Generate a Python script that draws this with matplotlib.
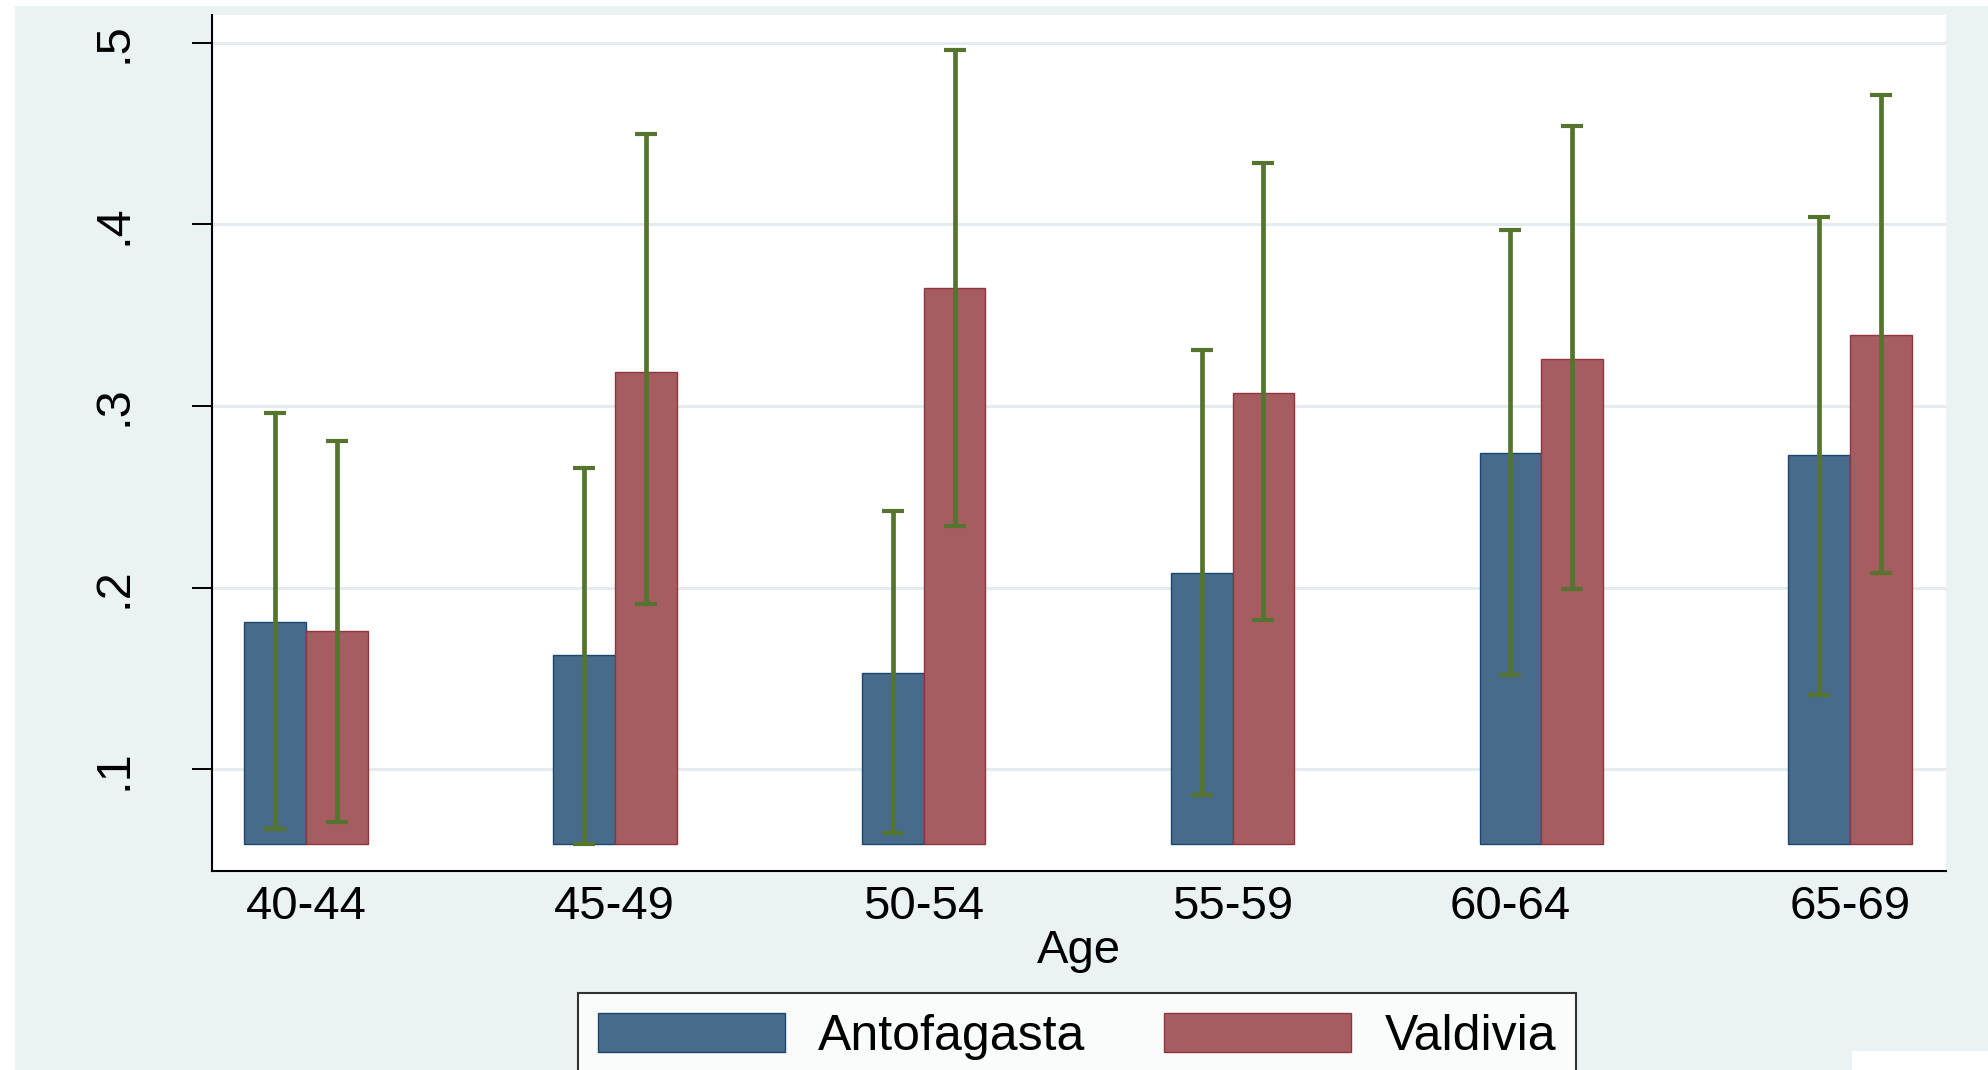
import matplotlib.pyplot as plt
from matplotlib.patches import Rectangle, Patch
import numpy as np

# age groups and where their labels sit on the x axis
age_groups = ["40-44", "45-49", "50-54", "55-59", "60-64", "65-69"]
group_pos = [1, 2, 3, 4, 5, 6]
label_pos = [1, 2, 3, 4, 4.9, 6]

# proportions and 95% CI
antofagasta = [0.181, 0.163, 0.153, 0.208, 0.274, 0.273]
antofagasta_lo = [0.067, 0.059, 0.065, 0.086, 0.152, 0.141]
antofagasta_hi = [0.296, 0.266, 0.242, 0.331, 0.397, 0.404]

valdivia = [0.176, 0.319, 0.365, 0.307, 0.326, 0.339]
valdivia_lo = [0.071, 0.191, 0.234, 0.182, 0.199, 0.208]
valdivia_hi = [0.281, 0.450, 0.496, 0.434, 0.454, 0.471]

bar_base = 0.059
y_ticks = [0.1, 0.2, 0.3, 0.4, 0.5]
y_ticklabels = [".1", ".2", ".3", ".4", ".5"]

# Stata s2color look
NAVY = "#1a476f"
MAROON = "#90353b"
NAVY_FILL = "#486b8c"
MAROON_FILL = "#a65d62"
GREEN = "#55752f"
BG = "#eaf2f3"
GRID = "#e4ecef"

plt.rcParams["font.family"] = ["Liberation Sans", "DejaVu Sans"]

W, H = 1988, 1070
fig = plt.figure(figsize=(W / 100, H / 100), dpi=100, facecolor="white")

# outer light background, with the white margins of the cropped image
fig.patches.append(Rectangle((15 / W, 0), 1 - 15 / W, 1 - 6 / H,
                             transform=fig.transFigure, facecolor=BG,
                             edgecolor="none", zorder=-10))
fig.patches.append(Rectangle((1852 / W, 0), 1 - 1852 / W, 19 / H,
                             transform=fig.transFigure, facecolor="white",
                             edgecolor="none", zorder=-9))

ax = fig.add_axes([212 / W, 1 - 871 / H, (1946 - 212) / W, (871 - 15) / H])
ax.set_facecolor("white")

x = np.array(group_pos, dtype=float)
width = 0.2

ax.bar(x - width / 2, np.array(antofagasta) - bar_base, width, bottom=bar_base,
       color=NAVY_FILL, edgecolor=NAVY, linewidth=1, zorder=3)
ax.bar(x + width / 2, np.array(valdivia) - bar_base, width, bottom=bar_base,
       color=MAROON_FILL, edgecolor=MAROON, linewidth=1, zorder=3)

# confidence intervals
for offset, mid, lo, hi in [(-width / 2, antofagasta, antofagasta_lo, antofagasta_hi),
                            (width / 2, valdivia, valdivia_lo, valdivia_hi)]:
    mid = np.array(mid)
    err = [mid - np.array(lo), np.array(hi) - mid]
    ax.errorbar(x + offset, mid, yerr=err, fmt="none", ecolor=GREEN,
                elinewidth=3.4, capsize=8, capthick=3, zorder=4)

ax.set_xlim(0.696, 6.31)
ax.set_ylim(0.044, 0.5153)

ax.set_yticks(y_ticks)
ax.set_yticklabels(y_ticklabels, rotation=90, va="center", fontsize=35)
ax.tick_params(axis="y", length=14.4, width=1.4, pad=40)

ax.set_xticks(label_pos)
ax.set_xticklabels(age_groups, fontsize=34)
ax.tick_params(axis="x", length=0, pad=10)

ax.yaxis.grid(True, color=GRID, linewidth=2.2, zorder=0)
ax.set_axisbelow(True)

for side in ["top", "right"]:
    ax.spines[side].set_visible(False)
for side in ["left", "bottom"]:
    ax.spines[side].set_linewidth(1.5)
    ax.spines[side].set_color("black")

ax.set_xlabel("Age", fontsize=34, labelpad=0)

handles = [Patch(facecolor=NAVY_FILL, edgecolor=NAVY, linewidth=1),
           Patch(facecolor=MAROON_FILL, edgecolor=MAROON, linewidth=1)]
leg = fig.legend(handles, ["Antofagasta", "Valdivia"], ncol=2,
                 loc="upper left", bbox_to_anchor=(578 / W, 1 - 993 / H),
                 fontsize=36, frameon=True, fancybox=False,
                 handlelength=3.74, handleheight=0.82, handletextpad=0.66,
                 columnspacing=1.58, borderpad=0.4, borderaxespad=0)
leg.get_frame().set_edgecolor("black")
leg.get_frame().set_linewidth(1.5)

fig.savefig("out.png", dpi=100, facecolor=fig.get_facecolor())
